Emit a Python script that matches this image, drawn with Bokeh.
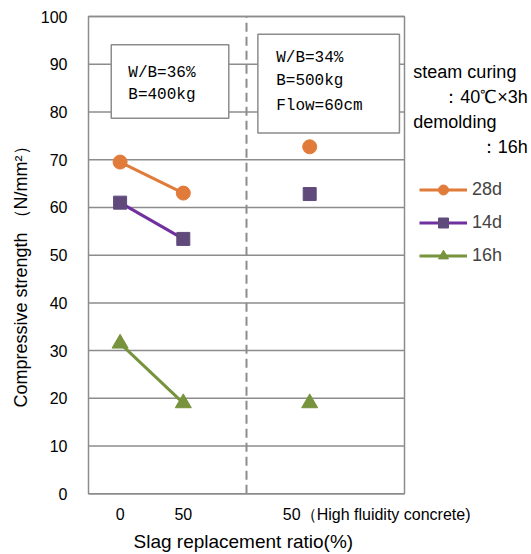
from bokeh.plotting import figure
from bokeh.models import Range1d, FixedTicker, Label, Legend, LegendItem, BoxAnnotation, Title
from bokeh.embed import file_html
from bokeh.resources import INLINE

# ---- data ----
x_std = [0.5, 1.5]          # slag replacement 0 %, 50 %
x_hf = [3.5]                # 50 % high fluidity concrete
tick_pos = [0.5, 1.5, 4.56]
tick_labels = ["0", "50", "50（High fluidity concrete)"]
y_ticks = list(range(0, 101, 10))

s28 = [69.5, 63.0]
s28_hf = [72.7]
s14 = [61.0, 53.4]
s14_hf = [62.8]
s16 = [31.5, 19.0]
s16_hf = [19.0]

GRAY = "#8c8c8c"
ORANGE = "#E07B39"
PURPLE_L = "#7030A0"
PURPLE_M = "#604A7B"
GREEN = "#77933C"

PX = 63.2    # px per x unit
PY = 4.773   # px per y unit

p = figure(width=531, height=554, output_backend="svg", toolbar_location=None,
           x_range=Range1d(-2 / PX, 443 / PX), y_range=Range1d(-1.7 / PY, 100 + 2 / PY),
           min_border_left=86, min_border_right=0, min_border_top=14, min_border_bottom=59)

p.outline_line_color = None
p.xgrid.grid_line_color = None
p.ygrid.grid_line_color = None

p.yaxis.ticker = FixedTicker(ticks=y_ticks)
p.xaxis.ticker = FixedTicker(ticks=tick_pos)
p.xaxis.major_label_overrides = {k: v for k, v in zip(tick_pos, tick_labels)}
for ax in (p.xaxis, p.yaxis):
    ax.axis_line_color = None
    ax.major_tick_line_color = None
    ax.minor_tick_line_color = None
    ax.major_tick_out = 0
    ax.major_tick_in = 0
    ax.major_label_text_font = "Liberation Sans"
    ax.major_label_text_font_size = "16px"
    ax.major_label_text_color = "black"
p.yaxis.major_label_standoff = 19
p.xaxis.major_label_standoff = 10

# axis titles
p.add_layout(Title(text="Slag replacement ratio(%)", align="left", offset=47, standoff=6,
                   text_font="Liberation Sans", text_font_size="19px",
                   text_font_style="normal", text_color="black"), "below")
p.add_layout(Title(text="Compressive strength （N/mm²）", align="left", offset=88, standoff=14,
                   text_font="Liberation Sans", text_font_size="18px",
                   text_font_style="normal", text_color="black"), "left")

# grid lines and frame (only over the chart part, x 0..5)
p.segment(x0=0, x1=5, y0=y_ticks, y1=y_ticks, line_color=GRAY, line_width=1.5)
p.segment(x0=2.5, x1=2.5, y0=0, y1=100, line_color=GRAY, line_width=2, line_dash="9 5")
p.add_layout(BoxAnnotation(left=0, right=5, bottom=0, top=100, fill_alpha=0,
                           line_color=GRAY, line_width=1.5, line_alpha=1))

# boxes
p.add_layout(BoxAnnotation(left=0.36, right=2.22, bottom=78.7, top=94.1, fill_color="white",
                           fill_alpha=1, line_color=GRAY, line_width=1.5, line_alpha=1))
p.add_layout(BoxAnnotation(left=2.68, right=4.92, bottom=75.6, top=96.3, fill_color="white",
                           fill_alpha=1, line_color=GRAY, line_width=1.5, line_alpha=1))

def txt(x, y, t, font="Liberation Mono", size="16px", align="left"):
    p.add_layout(Label(x=x, y=y, text=t, text_font=font, text_font_size=size,
                       text_align=align, text_baseline="middle", text_color="black"))

txt(0.63, 88.1, "W/B=36%")
txt(0.63, 83.5, "B=400kg")
txt(2.97, 91.4, "W/B=34%")
txt(2.97, 86.4, "B=500kg")
txt(2.97, 81.3, "Flow=60cm")

txt(5.14, 88.3, "steam curing", font="Liberation Sans", size="18px")
txt(6.95, 83.1, "：40℃×3h", font="Liberation Sans", size="18px", align="right")
txt(5.14, 78.0, "demolding", font="Liberation Sans", size="18px")
txt(6.95, 72.6, "：16h", font="Liberation Sans", size="18px", align="right")

# series
def series(xs, ys, xh, yh, color_l, color_m, marker, size):
    l = p.line(xs, ys, line_color=color_l, line_width=3)
    m = p.scatter(xs, ys, marker=marker, size=size, fill_color=color_m, line_color=color_m)
    p.scatter(xh, yh, marker=marker, size=size, fill_color=color_m, line_color=color_m)
    return l, m

l28, m28 = series(x_std, s28, x_hf, s28_hf, ORANGE, ORANGE, "circle", 14)
l14, m14 = series(x_std, s14, x_hf, s14_hf, PURPLE_L, PURPLE_M, "square", 13)
l16, m16 = series(x_std, s16, x_hf, s16_hf, GREEN, GREEN, "triangle", 16)

legend = Legend(items=[LegendItem(label="28d", renderers=[l28, m28]),
                       LegendItem(label="14d", renderers=[l14, m14]),
                       LegendItem(label="16h", renderers=[l16, m16])],
                location=(333, 227), glyph_width=48, glyph_height=25, label_height=25,
                spacing=8, padding=0, margin=0, border_line_color=None,
                background_fill_alpha=0, label_standoff=5,
                label_text_font="Liberation Sans", label_text_font_size="18px")
p.add_layout(legend)

open("out.html", "w").write(file_html(p, INLINE))
